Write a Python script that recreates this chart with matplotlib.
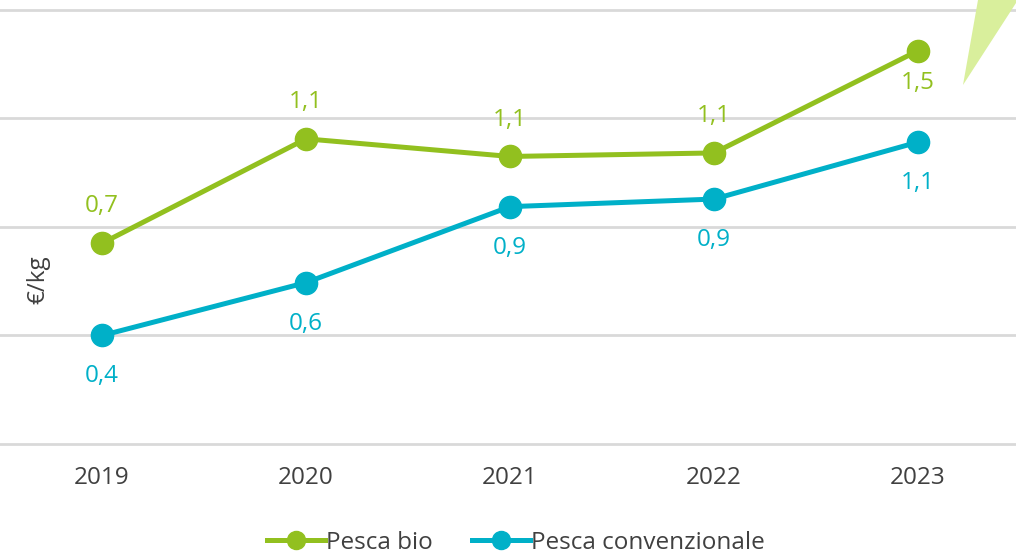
import matplotlib
matplotlib.use("Agg")
import matplotlib.pyplot as plt
from matplotlib.patches import Polygon
from matplotlib.lines import Line2D

years = ["2019", "2020", "2021", "2022", "2023"]
bio = [0.74, 1.125, 1.06, 1.073, 1.45]
conv = [0.40, 0.595, 0.875, 0.903, 1.113]
bio_labels = ["0,7", "1,1", "1,1", "1,1", "1,5"]
conv_labels = ["0,4", "0,6", "0,9", "0,9", "1,1"]
bio_label_pos = ["above", "above", "above", "above", "below"]
conv_label_pos = ["below", "below", "below", "below", "below"]

GREEN = "#92c01f"
CYAN = "#00b0c8"
GRID = "#d9d9d9"
TEXT = "#404040"
FS = 17.5

plt.rcParams['font.family'] = ['Open Sans', 'DejaVu Sans']

fig = plt.figure(figsize=(10.16, 5.55), dpi=100)
ax = fig.add_axes([0, 0.2, 1.004, 0.782])
x = list(range(len(years)))
ax.set_xlim(-0.5, 4.5)
ax.set_ylim(0, 1.6)
ax.set_yticks([0, 0.4, 0.8, 1.2, 1.6])
ax.yaxis.grid(True, color=GRID, linewidth=2)
for gl in ax.get_ygridlines():
    gl.set_clip_on(False)
ax.set_axisbelow(True)
for s in ax.spines.values():
    s.set_visible(False)
ax.tick_params(axis='y', length=0, labelleft=False)
ax.tick_params(axis='x', length=0, labelsize=FS, labelcolor=TEXT, pad=16)
ax.set_xticks(x)
ax.set_xticklabels(years)

ax.plot(x, bio, color=GREEN, lw=3.6, marker='o', ms=16, label="Pesca bio", zorder=3)
ax.plot(x, conv, color=CYAN, lw=3.6, marker='o', ms=16, label="Pesca convenzionale", zorder=3)

for xi, v, lab, pos in zip(x, bio, bio_labels, bio_label_pos):
    off = 26.6 if pos == "above" else -23
    ax.annotate(lab, (xi, v), xytext=(0, off), textcoords='offset points',
                ha='center', va='center', fontsize=FS, color=GREEN)
for xi, v, lab, pos in zip(x, conv, conv_labels, conv_label_pos):
    off = 26.6 if pos == "above" else -29.5
    ax.annotate(lab, (xi, v), xytext=(0, off), textcoords='offset points',
                ha='center', va='center', fontsize=FS, color=CYAN)

fig.text(38 / 1016, 1 - 280 / 555, "€/kg", rotation=90, ha='center', va='center',
         fontsize=FS, color=TEXT)

# decorative triangle top-right
tri = Polygon([(963 / 1016, 1 - 85 / 555), (978 / 1016, 1.0), (1.0, 1.0), (1.0, 1 - 3 / 555)],
              closed=True, transform=fig.transFigure, facecolor="#d9ef9c",
              edgecolor='none', zorder=5)
fig.patches.append(tri)

handles = [Line2D([0], [0], color=GREEN, lw=3.6, marker='o', ms=13),
           Line2D([0], [0], color=CYAN, lw=3.6, marker='o', ms=13)]
fig.legend(handles, ["Pesca bio", "Pesca convenzionale"], loc='center',
           bbox_to_anchor=(516 / 1016, 1 - 543 / 555), ncol=2, frameon=False,
           fontsize=FS, labelcolor=TEXT, handlelength=2.4, handletextpad=0.05,
           columnspacing=1.6)

fig.savefig("out.png", dpi=100)
